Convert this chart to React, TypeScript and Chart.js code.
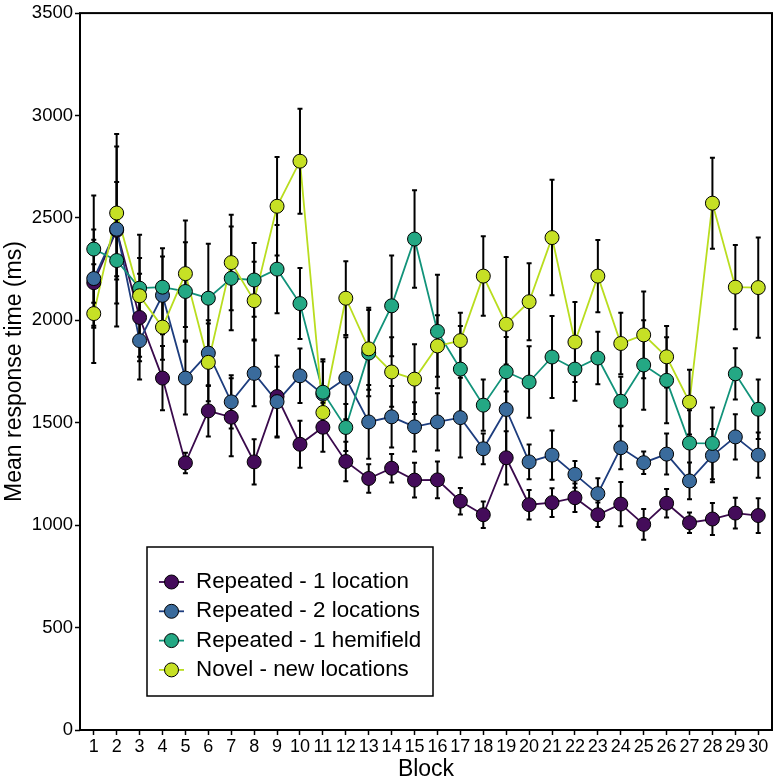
import { useEffect, useRef } from "react"
import { Chart, registerables } from "chart.js"

Chart.register(...registerables)

// Blocks on the x axis
const blocks = [1, 2, 3, 4, 5, 6, 7, 8, 9, 10, 11, 12, 13, 14, 15, 16, 17, 18, 19, 20, 21, 22, 23, 24, 25, 26, 27, 28, 29, 30]

const seriesNames = [
  "Repeated - 1 location",
  "Repeated - 2 locations",
  "Repeated - 1 hemifield",
  "Novel - new locations",
]

// mean response time (ms) per block
const rep1Mean = [2184, 2440, 2014, 1718, 1304, 1558, 1527, 1309, 1628, 1395, 1478, 1311, 1228, 1278, 1220, 1221, 1117, 1051, 1329, 1100, 1110, 1134, 1051, 1103, 1004, 1107, 1012, 1030, 1059, 1047]
const rep2Mean = [2204, 2445, 1901, 2122, 1718, 1840, 1602, 1741, 1603, 1729, 1640, 1717, 1504, 1529, 1480, 1504, 1525, 1373, 1565, 1309, 1342, 1248, 1154, 1378, 1305, 1347, 1216, 1340, 1431, 1342]
const hemiMean = [2348, 2292, 2157, 2162, 2141, 2108, 2205, 2197, 2250, 2082, 1649, 1477, 1840, 2071, 2397, 1946, 1762, 1586, 1749, 1699, 1821, 1762, 1816, 1605, 1782, 1707, 1401, 1399, 1739, 1566]
const novelMean = [2033, 2524, 2120, 1967, 2228, 1795, 2282, 2096, 2557, 2777, 1550, 2108, 1861, 1748, 1713, 1875, 1901, 2216, 1981, 2091, 2404, 1894, 2216, 1887, 1929, 1822, 1601, 2572, 2162, 2160]

// error bar half-lengths (ms)
const rep1Err = [210, 470, 214, 157, 50, 125, 190, 110, 200, 115, 120, 96, 70, 70, 85, 90, 65, 65, 130, 72, 70, 70, 60, 108, 75, 70, 50, 78, 75, 85]
const rep2Err = [240, 230, 190, 190, 178, 160, 130, 160, 170, 133, 170, 200, 180, 150, 120, 140, 195, 75, 220, 85, 120, 65, 75, 105, 55, 100, 90, 130, 110, 110]
const hemiErr = [262, 210, 147, 190, 240, 266, 253, 180, 215, 173, 150, 115, 210, 246, 238, 277, 210, 125, 170, 175, 200, 155, 128, 120, 218, 210, 160, 175, 125, 145]
const novelErr = [241, 325, 298, 160, 260, 190, 233, 190, 240, 256, 100, 180, 200, 170, 170, 150, 136, 194, 328, 188, 282, 195, 176, 150, 212, 150, 158, 222, 206, 245]

const means = [rep1Mean, rep2Mean, hemiMean, novelMean]
const errs = [rep1Err, rep2Err, hemiErr, novelErr]

const fillColors = ["#440c5a", "#3a6b9c", "#24a884", "#c6e025"]
const lineColors = ["#3a0a4c", "#1d3d7e", "#12937a", "#b9dd1f"]

const FONT = "'Liberation Sans', Arial, sans-serif"

const errorBars = {
  id: "errorBars",
  beforeDatasetDraw(chart: any, args: any) {
    // draw all bars just before the first point layer
    if (args.index !== 4) return
    const { ctx, scales } = chart
    ctx.save()
    ctx.strokeStyle = "#000"
    ctx.lineWidth = 2
    means.forEach((m, s) => {
      m.forEach((v, i) => {
        const x = scales.x.getPixelForValue(blocks[i])
        const y1 = scales.y.getPixelForValue(v - errs[s][i])
        const y2 = scales.y.getPixelForValue(v + errs[s][i])
        ctx.beginPath()
        ctx.moveTo(x, y1)
        ctx.lineTo(x, y2)
        ctx.moveTo(x - 2.5, y1)
        ctx.lineTo(x + 2.5, y1)
        ctx.moveTo(x - 2.5, y2)
        ctx.lineTo(x + 2.5, y2)
        ctx.stroke()
      })
    })
    ctx.restore()
  },
}

const panelBox = {
  id: "panelBox",
  beforeDatasetsDraw(chart: any) {
    const { ctx, chartArea } = chart
    ctx.save()
    ctx.strokeStyle = "#000"
    ctx.lineWidth = 2
    ctx.strokeRect(chartArea.left, chartArea.top, chartArea.right - chartArea.left, chartArea.bottom - chartArea.top)
    ctx.restore()
  },
}

const boxLegend = {
  id: "boxLegend",
  afterDraw(chart: any) {
    const { ctx } = chart
    ctx.save()
    ctx.fillStyle = "#fff"
    ctx.fillRect(147, 547, 286, 149)
    ctx.strokeStyle = "#000"
    ctx.lineWidth = 1.5
    ctx.strokeRect(147, 547, 286, 149)
    seriesNames.forEach((name, i) => {
      const y = 582 + i * 29.3
      ctx.strokeStyle = lineColors[i]
      ctx.lineWidth = 1.8
      ctx.beginPath()
      ctx.moveTo(159, y)
      ctx.lineTo(184, y)
      ctx.stroke()
      ctx.beginPath()
      ctx.arc(171.5, y, 7, 0, Math.PI * 2)
      ctx.fillStyle = fillColors[i]
      ctx.fill()
      ctx.strokeStyle = "#000"
      ctx.lineWidth = 1
      ctx.stroke()
      ctx.fillStyle = "#000"
      ctx.font = `22.4px ${FONT}`
      ctx.textBaseline = "middle"
      ctx.textAlign = "left"
      ctx.fillText(name, 196, y)
    })
    ctx.restore()
  },
}

export default function App() {
  const chartRef = useRef<HTMLCanvasElement>(null)
  const chartInstance = useRef<Chart | null>(null)

  useEffect(() => {
    if (!chartRef.current) return
    if (chartInstance.current) chartInstance.current.destroy()
    const ctx = chartRef.current.getContext("2d")
    if (!ctx) return

    const lineSets = means.map((m, s) => ({
      label: seriesNames[s],
      data: m.map((v, i) => ({ x: blocks[i], y: v })),
      borderColor: lineColors[s],
      borderWidth: 1.8,
      pointRadius: 0,
      fill: false,
      order: 13 - s,
    }))
    const pointSets = means.map((m, s) => ({
      label: seriesNames[s] + " points",
      data: m.map((v, i) => ({ x: blocks[i], y: v })),
      showLine: false,
      pointRadius: 7,
      pointBackgroundColor: fillColors[s],
      pointBorderColor: "#000",
      pointBorderWidth: 1,
      clip: false as any,
      order: 3 - s,
    }))

    chartInstance.current = new Chart(ctx, {
      type: "line",
      data: { datasets: [...lineSets, ...pointSets] as any },
      options: {
        responsive: false,
        animation: false,
        devicePixelRatio: 1,
        layout: { padding: { top: 11, right: 5, left: 0, bottom: 0 } },
        plugins: {
          legend: { display: false },
          tooltip: { enabled: false },
        },
        scales: {
          x: {
            type: "linear",
            min: 0.4,
            max: 30.6,
            afterBuildTicks: (axis: any) => {
              axis.ticks = blocks.map((v) => ({ value: v }))
            },
            afterFit: (axis: any) => {
              axis.height = 51
            },
            grid: { drawOnChartArea: false, drawTicks: true, tickLength: 5, tickColor: "#000", tickWidth: 1.5 },
            border: { display: false },
            ticks: {
              autoSkip: false,
              maxRotation: 0,
              minRotation: 0,
              padding: 1,
              color: "#000",
              font: { family: FONT, size: 18 },
              callback: (v: any) => String(v),
            },
            title: {
              display: true,
              text: "Block",
              color: "#000",
              font: { family: FONT, size: 23, lineHeight: 1 },
              padding: { top: 1.5, bottom: 0 },
            },
          },
          y: {
            min: 0,
            max: 3500,
            afterFit: (axis: any) => {
              axis.width = 80
            },
            grid: { drawOnChartArea: false, drawTicks: true, tickLength: 5, tickColor: "#000", tickWidth: 1.5 },
            border: { display: false },
            ticks: {
              stepSize: 500,
              padding: 2,
              color: "#000",
              font: { family: FONT, size: 18.5 },
              callback: (v: any) => String(v),
            },
            title: {
              display: true,
              text: "Mean response time (ms)",
              color: "#000",
              font: { family: FONT, size: 23, lineHeight: 1 },
              padding: { top: 3, bottom: 0 },
            },
          },
        },
      },
      plugins: [errorBars, panelBox, boxLegend],
    })

    return () => {
      if (chartInstance.current) {
        chartInstance.current.destroy()
        chartInstance.current = null
      }
    }
  }, [])

  return (
    <div style={{ position: "absolute", left: 0, top: 0, width: 780, height: 781, background: "#fff" }}>
      <canvas ref={chartRef} width={780} height={781} style={{ display: "block" }} />
    </div>
  )
}
